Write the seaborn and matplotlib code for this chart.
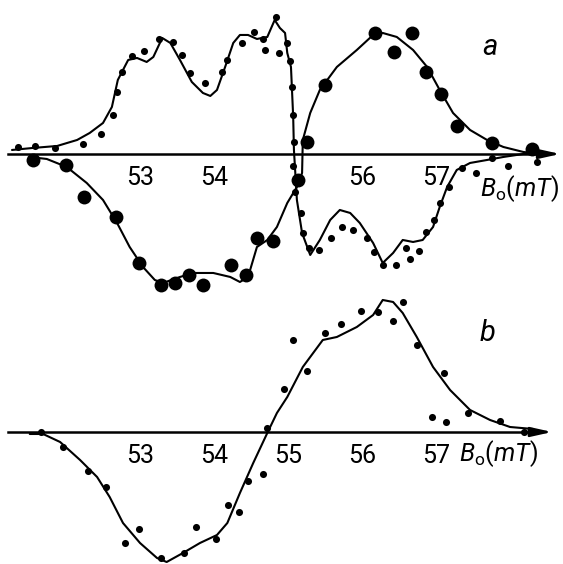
import matplotlib
matplotlib.use("Agg")
import matplotlib.pyplot as plt
import seaborn as sns

# magnetic field B0 in mT, signal in arbitrary units

# panel a, small dots (dispersion-like trace)
a_small_x = [51.35, 51.58, 51.85, 52.23, 52.47, 52.64, 52.69, 52.76, 52.89, 53.05,
             53.26, 53.45, 53.57, 53.68, 53.88, 54.11, 54.18, 54.38, 54.54, 54.66,
             54.69, 54.84, 54.88, 54.99, 55.03, 55.05, 55.07, 55.08, 55.07, 55.09,
             55.18, 55.20, 55.28, 55.42, 55.58, 55.73, 55.88, 56.07, 56.16, 56.28,
             56.46, 56.59, 56.65, 56.77, 56.86, 56.97, 57.05, 57.18, 57.35, 57.54,
             57.76, 57.97, 58.36]
a_small_y = [0.07, 0.08, 0.06, 0.10, 0.20, 0.39, 0.62, 0.82, 0.98, 1.03,
             1.15, 1.12, 0.99, 0.81, 0.71, 0.82, 0.94, 1.11, 1.22, 1.15,
             1.04, 1.37, 1.01, 1.11, 0.93, 0.67, 0.39, 0.12, -0.12, -0.38,
             -0.59, -0.79, -0.94, -0.96, -0.84, -0.73, -0.76, -0.84, -0.98, -1.11,
             -1.11, -0.94, -1.05, -0.97, -0.78, -0.66, -0.49, -0.33, -0.14, -0.19,
             -0.04, -0.12, -0.08]

# panel a, calculated curve through the small dots
a_small_fit_x = [51.27, 51.55, 51.88, 52.15, 52.32, 52.50, 52.62, 52.70, 52.84, 52.96,
                 53.09, 53.18, 53.30, 53.41, 53.54, 53.70, 53.85, 53.95, 54.04, 54.15,
                 54.26, 54.35, 54.46, 54.58, 54.72, 54.82, 54.89, 54.96, 54.99, 55.04,
                 55.07, 55.08, 55.12, 55.19, 55.30, 55.43, 55.57, 55.70, 55.84, 55.97,
                 56.15, 56.28, 56.42, 56.55, 56.69, 56.82, 56.96, 57.05, 57.15, 57.28,
                 57.46, 57.69, 57.91, 58.18, 58.31]
a_small_fit_y = [0.04, 0.06, 0.08, 0.14, 0.21, 0.31, 0.47, 0.74, 0.94, 0.96,
                 0.92, 0.97, 1.16, 1.11, 0.94, 0.72, 0.61, 0.58, 0.64, 0.87,
                 1.11, 1.19, 1.19, 1.15, 1.17, 1.34, 1.26, 1.21, 1.01, 0.87,
                 0.37, 0.04, -0.46, -0.79, -1.01, -0.86, -0.66, -0.56, -0.59, -0.69,
                 -0.89, -1.09, -0.99, -0.86, -0.88, -0.86, -0.73, -0.53, -0.33, -0.16,
                 -0.09, -0.06, -0.03, 0.00, 0.01]

# panel a, large dots (absorption-like trace)
a_big_x = [51.55, 52.00, 52.24, 52.68, 52.99, 53.28, 53.47, 53.66, 53.85, 54.23,
           54.43, 54.58, 54.80, 55.14, 55.26, 55.50, 56.18, 56.43, 56.68, 56.86,
           57.07, 57.28, 57.76, 58.30]
a_big_y = [-0.06, -0.11, -0.43, -0.63, -1.09, -1.31, -1.29, -1.21, -1.31, -1.11,
           -1.21, -0.84, -0.87, -0.26, 0.12, 0.69, 1.21, 1.02, 1.21, 0.82,
           0.60, 0.28, 0.11, 0.05]

a_big_fit_x = [51.51, 51.74, 52.01, 52.28, 52.50, 52.69, 52.86, 53.04, 53.20, 53.31,
               53.54, 53.72, 53.99, 54.22, 54.35, 54.46, 54.58, 54.72, 54.85, 54.99,
               55.12, 55.19, 55.20, 55.30, 55.43, 55.66, 55.93, 56.15, 56.28, 56.47,
               56.69, 56.88, 57.05, 57.23, 57.46, 57.69, 57.91, 58.18, 58.31]
a_big_fit_y = [-0.03, -0.05, -0.13, -0.29, -0.46, -0.69, -0.93, -1.13, -1.26, -1.29,
               -1.23, -1.19, -1.19, -1.23, -1.28, -1.23, -0.93, -0.86, -0.73, -0.49,
               -0.33, -0.19, 0.14, 0.41, 0.64, 0.87, 1.04, 1.19, 1.21, 1.17,
               1.04, 0.87, 0.64, 0.41, 0.24, 0.14, 0.07, 0.02, 0.01]

# panel b
b_x = [51.66, 51.96, 52.30, 52.54, 52.80, 52.99, 53.28, 53.59, 53.76, 54.03,
       54.19, 54.34, 54.46, 54.66, 54.72, 54.95, 55.07, 55.26, 55.50, 55.72,
       55.99, 56.22, 56.42, 56.55, 56.74, 57.11, 56.95, 57.14, 57.43, 57.86,
       58.19]
b_y = [0.00, -0.15, -0.39, -0.55, -1.11, -0.97, -1.26, -1.21, -0.95, -1.07,
       -0.73, -0.80, -0.49, -0.42, 0.04, 0.43, 0.92, 0.61, 0.99, 1.08,
       1.21, 1.20, 1.11, 1.30, 0.87, 0.59, 0.15, 0.10, 0.19, 0.11,
       0.00]

b_fit_x = [51.51, 51.69, 51.92, 52.19, 52.42, 52.59, 52.77, 53.00, 53.23, 53.36,
           53.58, 53.81, 54.04, 54.18, 54.35, 54.53, 54.72, 54.85, 54.99, 55.20,
           55.47, 55.66, 55.93, 56.15, 56.28, 56.42, 56.55, 56.74, 56.96, 57.19,
           57.46, 57.73, 58.00, 58.31]
b_fit_y = [-0.02, -0.02, -0.10, -0.28, -0.45, -0.65, -0.91, -1.11, -1.26, -1.30,
           -1.21, -1.11, -1.03, -0.91, -0.61, -0.31, -0.01, 0.19, 0.35, 0.65,
           0.92, 0.95, 1.05, 1.17, 1.32, 1.30, 1.19, 0.95, 0.65, 0.42,
           0.22, 0.12, 0.05, 0.03]

sns.set_theme(style="white")
plt.rcParams["font.family"] = ["Roboto", "DejaVu Sans"]
plt.rcParams["mathtext.fontset"] = "custom"
plt.rcParams["mathtext.it"] = "Roboto:italic"
plt.rcParams["mathtext.rm"] = "Roboto"

INK = "black"
SMALL = 26
BIG = 100


def field_axis(ax, labels, x_end):
    """ Draw the B0 axis as a horizontal line through zero with an arrow. """
    for side in ["left", "right", "top"]:
        ax.spines[side].set_visible(False)
    ax.spines["bottom"].set_position(("data", 0))
    ax.spines["bottom"].set_bounds(51.22, x_end - 0.15)
    ax.spines["bottom"].set_linewidth(1.8)
    ax.spines["bottom"].set_color(INK)
    ax.set_yticks([])
    ax.set_xticks([52, 53, 54, 55, 56, 57, 58])
    ax.set_xticklabels(labels)
    ax.set_xticks([52.5, 53.5, 54.5, 55.5, 56.5, 57.5], minor=True)
    ax.tick_params(axis="x", which="major", direction="in", length=4, width=1,
                   color=INK, pad=9, labelsize=18, labelcolor=INK)
    ax.tick_params(axis="x", which="minor", direction="in", length=2.5, width=1,
                   color=INK)
    ax.annotate("", xy=(x_end, 0), xytext=(x_end - 0.2, 0),
                arrowprops=dict(arrowstyle="-|>,head_length=0.9,head_width=0.2",
                                color=INK, lw=1.8, mutation_scale=14,
                                shrinkA=0, shrinkB=0))
    ax.set_xlabel("")
    ax.set_ylabel("")


fig = plt.figure(figsize=(5.63, 5.64), dpi=100)
ax_a = fig.add_axes([0.0121, 0.4699, 0.9858, 0.5142])
ax_b = fig.add_axes([0.0121, 0.0, 0.9858, 0.4823])
for ax in (ax_a, ax_b):
    ax.patch.set_alpha(0)

# panel a
sns.lineplot(x=a_small_fit_x, y=a_small_fit_y, ax=ax_a, color=INK, lw=1.5,
             sort=False, estimator=None)
sns.lineplot(x=a_big_fit_x, y=a_big_fit_y, ax=ax_a, color=INK, lw=1.5,
             sort=False, estimator=None)
sns.scatterplot(x=a_small_x, y=a_small_y, ax=ax_a, color=INK, s=SMALL,
                linewidth=0, clip_on=False)
sns.scatterplot(x=a_big_x, y=a_big_y, ax=ax_a, color=INK, s=BIG,
                linewidth=0, clip_on=False)
ax_a.set_xlim(51.2, 58.7)
ax_a.set_ylim(-1.45, 1.45)
field_axis(ax_a, ["", "53", "54", "", "56", "57", ""], 58.68)
ax_a.text(57.59, -0.42, r"$B_{\rm o}(mT)$", fontsize=18, color=INK)
ax_a.text(57.73, 1.07, "a", fontsize=21, style="italic", color=INK,
          ha="center", va="center")

# panel b
sns.lineplot(x=b_fit_x, y=b_fit_y, ax=ax_b, color=INK, lw=1.5,
             sort=False, estimator=None)
sns.scatterplot(x=b_x, y=b_y, ax=ax_b, color=INK, s=SMALL,
                linewidth=0, clip_on=False)
ax_b.set_xlim(51.2, 58.7)
ax_b.set_ylim(-1.32, 1.40)
field_axis(ax_b, ["", "53", "54", "55", "56", "57", ""], 58.57)
ax_b.text(57.31, -0.29, r"$B_{\rm o}(mT)$", fontsize=18, color=INK)
ax_b.text(57.70, 0.99, "b", fontsize=21, style="italic", color=INK,
          ha="center", va="center")

fig.savefig("out.png", dpi=100)
